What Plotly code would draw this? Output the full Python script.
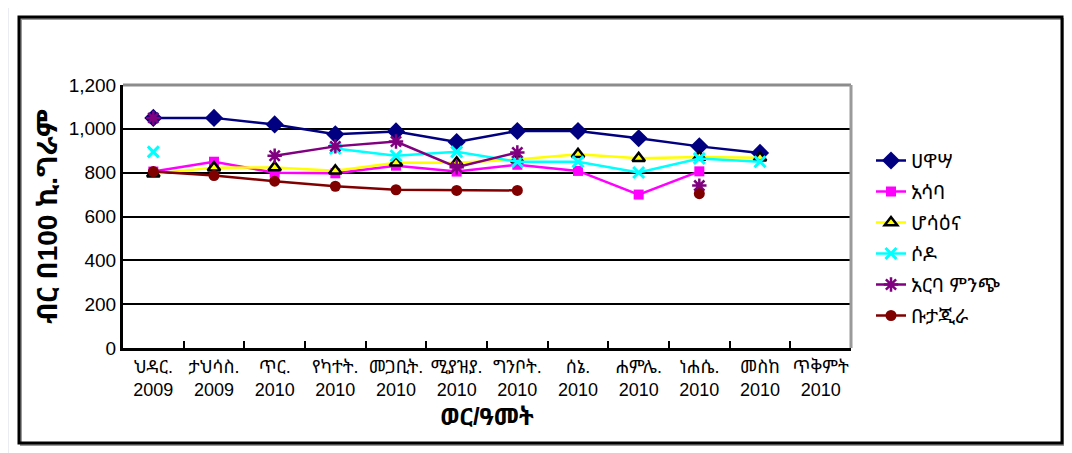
import plotly.graph_objects as go

months = ["ህዳር.", "ታህሳስ.", "ጥር.", "የካተት.", "መጋቢት.", "ሚያዝያ.", "ግንቦት.", "ሰኔ.",
          "ሐምሌ.", "ነሐሴ.", "መስከ", "ጥቅምት"]
years = ["2009", "2009", "2010", "2010", "2010", "2010", "2010", "2010",
         "2010", "2010", "2010", "2010"]
categories = [f"{m}<br>{y}" for m, y in zip(months, years)]

hawassa = [1050, 1050, 1020, 975, 988, 940, 990, 990, 957, 920, 890, None]
assaba = [805, 850, 800, 797, 832, 805, 836, 808, 700, 806, None, None]
hossana = [795, 823, 824, 809, 845, 845, 860, 884, 866, 871, 868, None]
sodo = [895, None, None, 910, 877, 895, 850, 850, 801, 865, 850, None]
arbaminch = [1050, None, 877, 920, 942, 825, 892, None, None, 741, None, None]
butajira = [805, 787, 761, 738, 722, 719, 719, None, None, 704, None, None]

series_names = ["ሀዋሣ", "አሳባ", "ሆሳዕና", "ሶዶ", "አርባ ምንጭ", "ቡታጂራ"]
series_values = [hawassa, assaba, hossana, sodo, arbaminch, butajira]

ETH = "Liberation Sans, Noto Sans Ethiopic, Abyssinica SIL, FreeSerif, DejaVu Sans, sans-serif"

styles = [
    dict(color="#000080", symbol="diamond", size=14, mcolor="#000080", mline=dict(width=0)),
    dict(color="#FF00FF", symbol="square", size=10, mcolor="#FF00FF", mline=dict(width=0)),
    dict(color="#FFFF00", symbol="triangle-up", size=11, mcolor="#FFFF00", mline=dict(width=2.5, color="black")),
    dict(color="#00FFFF", symbol="x-thin", size=11, mcolor="#00FFFF", mline=dict(width=3, color="#00FFFF")),
    dict(color="#800080", symbol="asterisk", size=12, mcolor="#800080", mline=dict(width=2.5, color="#800080")),
    dict(color="#800000", symbol="circle", size=11, mcolor="#800000", mline=dict(width=0)),
]

fig = go.Figure()
for i, (name, vals, st) in enumerate(zip(series_names, series_values, styles)):
    fig.add_trace(go.Scatter(
        x=categories, y=vals, name=name, mode="lines+markers",
        line=dict(color=st["color"], width=2.5),
        marker=dict(symbol=st["symbol"], size=st["size"], color=st["mcolor"], line=st["mline"]),
        connectgaps=False, legendgroup=f"g{i}",
    ))

OFF = 8  # page body margin
W, H = 1072 - OFF, 453 - OFF
L, R, T, B = 123 - OFF, 851 - OFF, 85 - OFF, 348 - OFF
def px(x):
    return (x - OFF - L) / (R - L)
def py(y):
    return 1 - (y - OFF - T) / (B - T)

shapes = [
    # outer light frame
    dict(type="line", xref="paper", yref="paper", x0=px(7), x1=px(7), y0=py(5), y1=py(470),
         line=dict(color="#d3dbe8", width=3), layer="below"),
    dict(type="line", xref="paper", yref="paper", x0=px(7), x1=px(1090), y0=py(5), y1=py(5),
         line=dict(color="#d3dbe8", width=3), layer="below"),
    # shadow
    dict(type="rect", xref="paper", yref="paper", x0=px(21), x1=px(1064), y0=py(19), y1=py(445),
         line=dict(color="#9a9a9a", width=2), layer="below"),
    # black frame
    dict(type="rect", xref="paper", yref="paper", x0=px(19), x1=px(1062), y0=py(17), y1=py(443),
         line=dict(color="black", width=3), layer="below"),
    # plot area top and right border (gray)
    dict(type="line", xref="paper", yref="paper", x0=0, x1=1, y0=1, y1=1,
         line=dict(color="#8c8c8c", width=3)),
    dict(type="line", xref="paper", yref="paper", x0=1, x1=1, y0=0, y1=1,
         line=dict(color="#9a9a9a", width=3)),
]

fig.update_layout(
    width=W, height=H,
    margin=dict(l=L, r=W - R, t=T, b=H - B),
    paper_bgcolor="white", plot_bgcolor="white",
    font=dict(family=ETH, color="black", size=15),
    showlegend=True,
    legend=dict(x=px(871), y=py(141), xanchor="left", yanchor="top",
                font=dict(size=20, family=ETH), tracegroupgap=2,
                bgcolor="rgba(0,0,0,0)"),
    shapes=shapes,
    xaxis=dict(
        type="category", categoryorder="array", categoryarray=categories,
        showgrid=False, showline=True, linecolor="black", linewidth=3,
        ticks="inside", tickson="boundaries", ticklen=7, tickwidth=2, tickcolor="black",
        tickfont=dict(size=18, family=ETH), tickangle=0,
        title=dict(text="<b>ወር/ዓመት</b>", font=dict(size=24, family=ETH), standoff=10),
        range=[-0.5, 11.5], fixedrange=True,
    ),
    yaxis=dict(
        range=[0, 1200], dtick=200, tickformat=",", showgrid=True,
        gridcolor="black", gridwidth=2, zeroline=False,
        showline=True, linecolor="black", linewidth=3, ticks="",
        tickfont=dict(size=19, family="Liberation Sans, Arial"),
        title=dict(text="<b>ብር በ100 ኪ.ግራም</b>", font=dict(size=28, family=ETH), standoff=3),
    ),
)

fig.write_html("out.html")
